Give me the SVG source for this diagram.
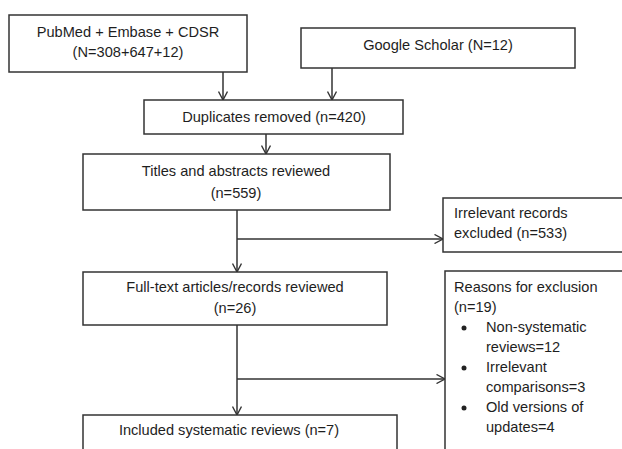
<svg xmlns="http://www.w3.org/2000/svg" width="622" height="449" viewBox="0 0 622 449">
<style>
.box{fill:#fff;stroke:#333;stroke-width:1.5}
text{font-family:"Liberation Sans",Arial,sans-serif;font-size:14.6px;fill:#1e1e1e}
.c{text-anchor:middle}
.ln{fill:none;stroke:#333;stroke-width:1.5}
</style>
<defs>
<marker id="ah" viewBox="0 0 10 10" refX="9.5" refY="5" markerWidth="10" markerHeight="10" markerUnits="userSpaceOnUse" orient="auto">
<path d="M1,0.5 L9.5,5 L1,9.5" fill="none" stroke="#333" stroke-width="1.4"/>
</marker>
</defs>
<rect width="622" height="449" fill="#fff"/>
<g id="connectors">
<line class="ln" x1="223" y1="72" x2="223" y2="100" marker-end="url(#ah)"/>
<line class="ln" x1="332" y1="68" x2="332" y2="100" marker-end="url(#ah)"/>
<line class="ln" x1="266" y1="134" x2="266" y2="154" marker-end="url(#ah)"/>
<line class="ln" x1="237" y1="210" x2="237" y2="272" marker-end="url(#ah)"/>
<line class="ln" x1="237" y1="239" x2="443" y2="239" marker-end="url(#ah)"/>
<line class="ln" x1="237" y1="325" x2="237" y2="415" marker-end="url(#ah)"/>
<line class="ln" x1="237" y1="379" x2="445" y2="379" marker-end="url(#ah)"/>
</g>
<g id="n1">
<rect class="box" x="9" y="15" width="238" height="57"/>
<text class="c" x="128" y="37">PubMed + Embase + CDSR</text>
<text class="c" x="128" y="57">(N=308+647+12)</text>
</g>
<g id="n2">
<rect class="box" x="301" y="28" width="274" height="40"/>
<text class="c" x="438" y="50">Google Scholar (N=12)</text>
</g>
<g id="n3">
<rect class="box" x="144" y="100" width="259" height="34"/>
<text class="c" x="274" y="122">Duplicates removed (n=420)</text>
</g>
<g id="n4">
<rect class="box" x="83" y="154" width="307" height="56"/>
<text class="c" x="236" y="176">Titles and abstracts reviewed</text>
<text class="c" x="236" y="198">(n=559)</text>
</g>
<g id="n5">
<rect class="box" x="443" y="198" width="190" height="54"/>
<text x="454" y="218">Irrelevant records</text>
<text x="454" y="238">excluded (n=533)</text>
</g>
<g id="n6">
<rect class="box" x="83" y="272" width="304" height="53"/>
<text class="c" x="235" y="292">Full-text articles/records reviewed</text>
<text class="c" x="235" y="313">(n=26)</text>
</g>
<g id="n7">
<rect class="box" x="445" y="271" width="190" height="190"/>
<text x="454" y="292">Reasons for exclusion</text>
<text x="454" y="312">(n=19)</text>
<circle cx="464" cy="328" r="2.5" fill="#222"/>
<text x="486" y="332">Non-systematic</text>
<text x="486" y="352">reviews=12</text>
<circle cx="464" cy="368" r="2.5" fill="#222"/>
<text x="486" y="372">Irrelevant</text>
<text x="486" y="392">comparisons=3</text>
<circle cx="464" cy="408" r="2.5" fill="#222"/>
<text x="486" y="412">Old versions of</text>
<text x="486" y="432">updates=4</text>
</g>
<g id="n8">
<rect class="box" x="83" y="415" width="314" height="50"/>
<text class="c" x="229" y="435">Included systematic reviews (n=7)</text>
</g>
</svg>
